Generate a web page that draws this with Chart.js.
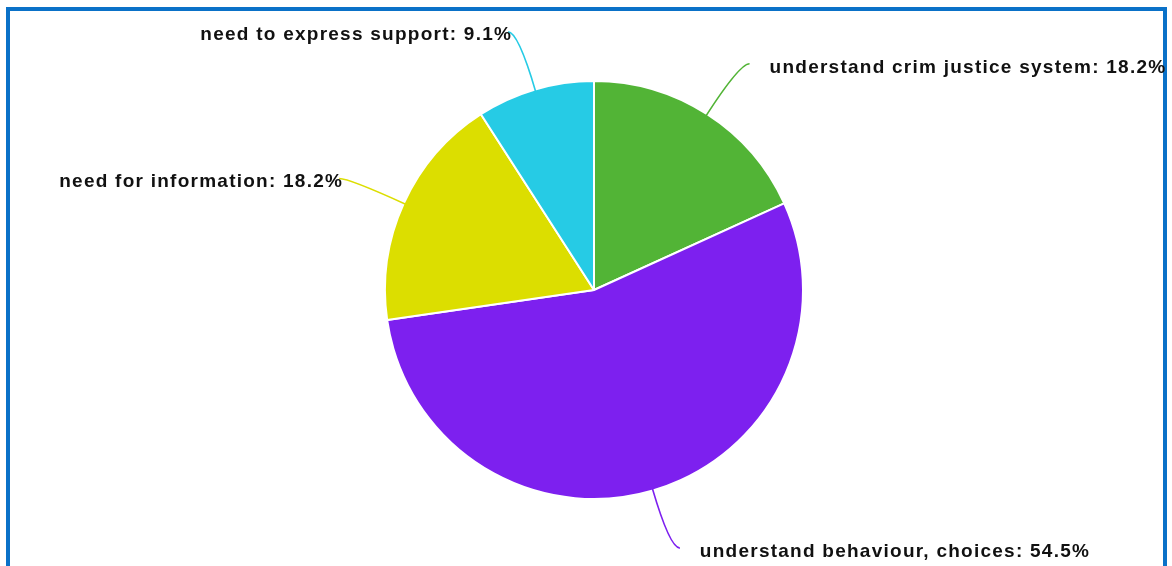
<!DOCTYPE html>
<html>
<head>
<meta charset="utf-8">
<script src="https://cdn.jsdelivr.net/npm/chart.js@4/dist/chart.umd.min.js"></script>
<style>
  html, body { margin: 0; padding: 0; background: #fff; overflow: hidden; }
  #frame { position: absolute; left: 6px; top: 7px; width: 1161px; height: 620px; border: 4px solid #0a71c8; box-sizing: border-box; }
  #wrap { position: absolute; left: 0; top: 0; width: 1172px; height: 566px; }
</style>
</head>
<body>
<div id="frame"></div>
<div id="wrap"><canvas id="pie" width="1172" height="566"></canvas></div>
<script>
// slices in clockwise order starting at 12 o'clock
var labels = [ "understand crim justice system", "understand behaviour, choices", "need for information", "need to express support" ];
var values = [ 18.2, 54.5, 18.2, 9.1 ];
var colors = [ "#52b436", "#7d20ef", "#dcde00", "#26cbe5" ];

var leaderLabels = {
	id: 'leaderLabels',
	afterDatasetsDraw: function(chart) {
		var ctx = chart.ctx;
		var arcs = chart.getDatasetMeta(0).data;
		ctx.save();
		ctx.font = 'bold 19px "Liberation Sans", Arial, sans-serif';
		ctx.letterSpacing = '1.25px';
		ctx.fillStyle = '#111';
		ctx.textBaseline = 'middle';
		for (var i = 0; i < arcs.length; i++) {
			var p = arcs[i].getProps([ 'x', 'y', 'startAngle', 'endAngle', 'outerRadius' ], true);
			var mid = (p.startAngle + p.endAngle) / 2;
			var cx = Math.cos(mid), cy = Math.sin(mid);
			var sx = p.x + cx * (p.outerRadius - 2), sy = p.y + cy * (p.outerRadius - 2);
			var ex = p.x + cx * (p.outerRadius + 60), ey = p.y + cy * (p.outerRadius + 60);
			var side = cx >= 0 ? 1 : -1;
			var tx = ex + side * 10;
			ctx.strokeStyle = colors[i];
			ctx.lineWidth = 1.6;
			ctx.beginPath();
			ctx.moveTo(sx, sy);
			ctx.quadraticCurveTo(ex, ey, tx, ey);
			ctx.stroke();
			var text = labels[i] + ': ' + values[i].toFixed(1) + '%';
			if (side > 0) {
				ctx.textAlign = 'left';
				ctx.fillText(text, tx + 20, ey + 4);
			} else {
				ctx.textAlign = 'right';
				ctx.fillText(text, tx + 4, ey + 3);
			}
		}
		ctx.restore();
	}
};

new Chart(document.getElementById('pie'), {
	type: 'pie',
	data: {
		labels: labels,
		datasets: [{
			data: values,
			backgroundColor: colors,
			borderColor: '#ffffff',
			borderWidth: 2
		}]
	},
	options: {
		responsive: false,
		animation: false,
		layout: { padding: { left: 384, right: 368, top: 80, bottom: 66 } },
		plugins: {
			legend: { display: false },
			tooltip: { enabled: false }
		}
	},
	plugins: [ leaderLabels ]
});
</script>
</body>
</html>
